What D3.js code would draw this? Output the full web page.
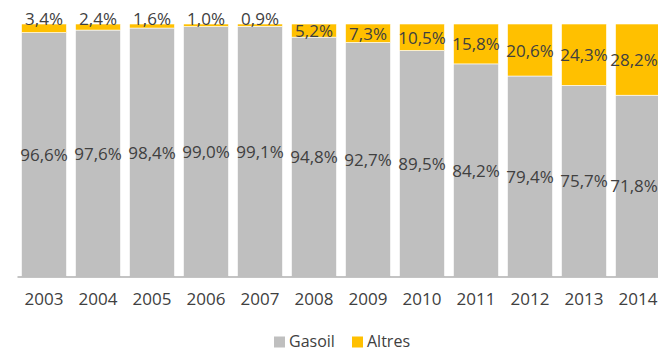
<!DOCTYPE html>
<html>
<head>
<meta charset="utf-8">
<script src="https://cdn.jsdelivr.net/npm/d3@7/dist/d3.min.js"></script>
<style>
  html, body { margin: 0; padding: 0; background: #fff; }
  svg { display: block; font-family: "Open Sans", sans-serif; }
</style>
</head>
<body>
<svg id="chart" width="658" height="351"></svg>
<script>
// Fuel share by year (percent)
const years = ["2003","2004","2005","2006","2007","2008","2009","2010","2011","2012","2013","2014"];
const gasoil = [96.6, 97.6, 98.4, 99.0, 99.1, 94.8, 92.7, 89.5, 84.2, 79.4, 75.7, 71.8];
const altres = [3.4, 2.4, 1.6, 1.0, 0.9, 5.2, 7.3, 10.5, 15.8, 20.6, 24.3, 28.2];
const seriesNames = ["Gasoil", "Altres"];
const colors = { Gasoil: "#BFBFBF", Altres: "#FFC000" };

const fmt = v => v.toFixed(1).replace(".", ",") + "%";

const svg = d3.select("#chart");
const plot = { left: 17, right: 665, top: 24, bottom: 276.5 };

const x = d3.scaleBand()
  .domain(years)
  .range([plot.left, plot.right])
  .paddingInner(0.167)
  .paddingOuter(0.0835);

const y = d3.scaleLinear().domain([0, 100]).range([plot.bottom, plot.top]);

const rows = years.map((yr, i) => ({ year: yr, Gasoil: gasoil[i], Altres: altres[i] }));
const stacked = d3.stack().keys(seriesNames)(rows);

const g = svg.append("g");

// stacked bars
g.selectAll("g.series")
  .data(stacked)
  .join("g")
  .attr("class", "series")
  .attr("fill", d => colors[d.key])
  .selectAll("rect")
  .data(d => d)
  .join("rect")
  .attr("x", d => x(d.data.year))
  .attr("width", x.bandwidth())
  .attr("y", d => y(d[1]))
  .attr("height", d => y(d[0]) - y(d[1]))
  .attr("stroke", "#fff")
  .attr("stroke-width", 0.6);

// value labels (small shares sit just above the bar); the last column's
// labels are nudged left so they stay inside the frame
const labelColor = "#404040";
const lastYear = years[years.length - 1];
stacked.forEach(s => {
  g.append("g").selectAll("text")
    .data(s)
    .join("text")
    .attr("x", d => x(d.data.year) + x.bandwidth() / 2 - (d.data.year === lastYear ? 4 : 0))
    .attr("y", d => {
      const v = d[1] - d[0];
      if (s.key === "Altres" && v < 5) return plot.top - 5.5;
      return (y(d[0]) + y(d[1])) / 2;
    })
    .attr("text-anchor", "middle")
    .attr("dominant-baseline", "central")
    .attr("font-size", 17)
    .attr("fill", labelColor)
    .text(d => fmt(d[1] - d[0]));
});

// x axis
const xAxis = d3.axisBottom(x).tickSize(0).tickPadding(16);
const ax = svg.append("g")
  .attr("transform", `translate(0,${plot.bottom})`)
  .call(xAxis);
ax.select(".domain").attr("stroke", "#898989").attr("stroke-width", 1.2);
ax.selectAll("text")
  .attr("font-size", 17)
  .attr("font-family", "Open Sans, sans-serif")
  .attr("fill", labelColor);

// legend
const legendItems = [
  { name: "Gasoil", x: 274 },
  { name: "Altres", x: 352 }
];
const lg = svg.append("g").selectAll("g")
  .data(legendItems)
  .join("g")
  .attr("transform", d => `translate(${d.x},336.5)`);
lg.append("rect")
  .attr("width", 11).attr("height", 11)
  .attr("fill", d => colors[d.name]);
lg.append("text")
  .attr("x", 15).attr("y", 10.5)
  .attr("font-size", 16)
  .attr("fill", labelColor)
  .text(d => d.name);
</script>
</body>
</html>
